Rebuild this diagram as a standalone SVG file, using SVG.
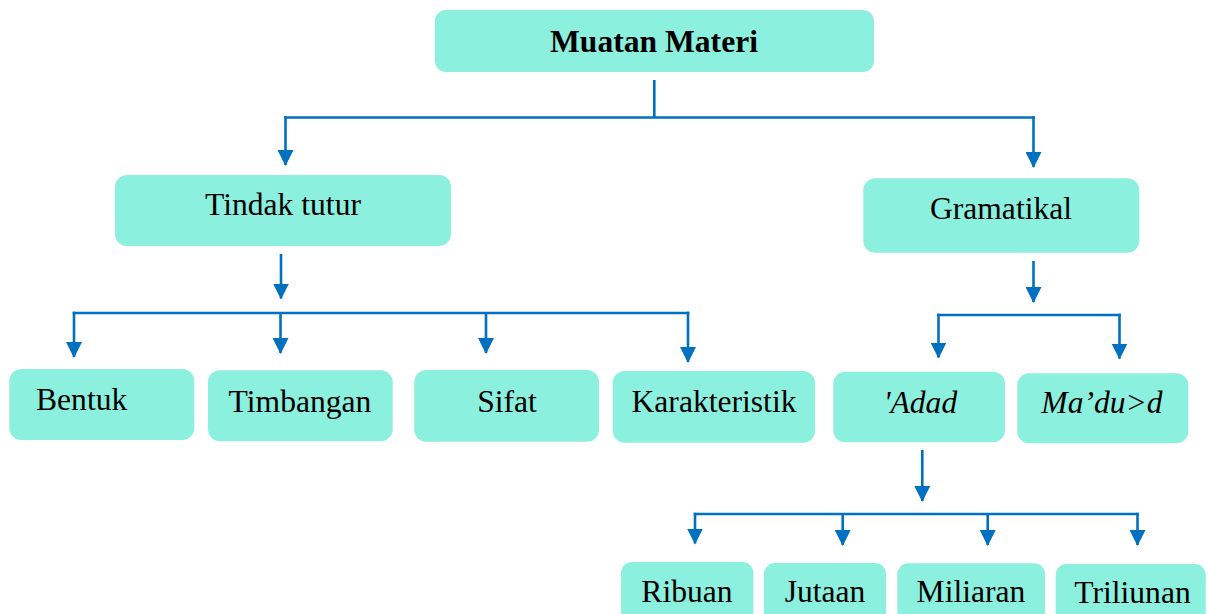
<svg xmlns="http://www.w3.org/2000/svg" width="1208" height="614" viewBox="0 0 1208 614">
<style>
.box{fill:#8CF0DE;}
.t{font-family:"Liberation Serif","Times New Roman",serif;font-size:31.6px;fill:#000;text-anchor:middle;}
.b{font-weight:bold;}
.i{font-style:italic;}
.c{fill:none;stroke:#0070C0;stroke-width:2.6;}
.a{fill:none;stroke:#0070C0;stroke-width:2.6;marker-end:url(#ah);}
</style>
<defs>
<marker id="ah" markerUnits="userSpaceOnUse" viewBox="0 0 16 16" markerWidth="16" markerHeight="16" refX="15" refY="8" orient="auto">
<path d="M0,0 L16,8 L0,16 Z" fill="#0070C0"/>
</marker>
</defs>
<rect width="1208" height="614" fill="#fff"/>
<g id="connectors">
<line class="c" x1="654.3" y1="80" x2="654.3" y2="117.5"/>
<line class="c" x1="284.2" y1="117.5" x2="1034.8" y2="117.5"/>
<line class="a" x1="285.5" y1="116.2" x2="285.5" y2="165"/>
<line class="a" x1="1033.5" y1="116.2" x2="1033.5" y2="167"/>
<line class="a" x1="281" y1="254" x2="281" y2="298.5"/>
<line class="c" x1="72.7" y1="313" x2="689.3" y2="313"/>
<line class="a" x1="74" y1="311.7" x2="74" y2="357"/>
<line class="a" x1="280.5" y1="313" x2="280.5" y2="353"/>
<line class="a" x1="486" y1="313" x2="486" y2="353"/>
<line class="a" x1="688" y1="311.7" x2="688" y2="362"/>
<line class="a" x1="1033.5" y1="261" x2="1033.5" y2="302"/>
<line class="c" x1="937.2" y1="315" x2="1120.8" y2="315"/>
<line class="a" x1="938.5" y1="313.7" x2="938.5" y2="357.5"/>
<line class="a" x1="1119.5" y1="313.7" x2="1119.5" y2="358.5"/>
<line class="a" x1="922.3" y1="450" x2="922.3" y2="501"/>
<line class="c" x1="693.7" y1="514" x2="1138.8" y2="514"/>
<line class="a" x1="695" y1="512.7" x2="695" y2="543.5"/>
<line class="a" x1="842.7" y1="514" x2="842.7" y2="545"/>
<line class="a" x1="987.7" y1="514" x2="987.7" y2="545"/>
<line class="a" x1="1137.5" y1="512.7" x2="1137.5" y2="545"/>
</g>
<g id="muatan-materi">
<rect class="box" x="435" y="10" width="439" height="62" rx="11"/>
<text class="t b" x="654" y="52">Muatan Materi</text>
</g>
<g id="tindak-tutur">
<rect class="box" x="115" y="175" width="336" height="71" rx="12"/>
<text class="t" x="283" y="215">Tindak tutur</text>
</g>
<g id="gramatikal">
<rect class="box" x="863.3" y="178.3" width="276" height="74.5" rx="12"/>
<text class="t" x="1001" y="219.3">Gramatikal</text>
</g>
<g id="bentuk">
<rect class="box" x="9.3" y="369" width="185" height="71" rx="12"/>
<text class="t" x="36" y="410" style="text-anchor:start">Bentuk</text>
</g>
<g id="timbangan">
<rect class="box" x="208" y="370.3" width="184.7" height="71" rx="12"/>
<text class="t" x="300" y="411.7">Timbangan</text>
</g>
<g id="sifat">
<rect class="box" x="414.3" y="370" width="184.7" height="71.7" rx="12"/>
<text class="t" x="507" y="411.7">Sifat</text>
</g>
<g id="karakteristik">
<rect class="box" x="612.7" y="371" width="202.3" height="71.7" rx="12"/>
<text class="t" x="714" y="412">Karakteristik</text>
</g>
<g id="adad">
<rect class="box" x="833.3" y="371.7" width="171.7" height="70.6" rx="12"/>
<text class="t i" x="920.5" y="412.7">'Adad</text>
</g>
<g id="madud">
<rect class="box" x="1017.3" y="373.3" width="171" height="70" rx="12"/>
<text class="t i" x="1102" y="413.3">Ma’du&gt;d</text>
</g>
<g id="ribuan">
<rect class="box" x="621" y="562" width="132.3" height="70" rx="11"/>
<text class="t" x="687" y="601.7">Ribuan</text>
</g>
<g id="jutaan">
<rect class="box" x="764" y="563" width="122" height="70" rx="11"/>
<text class="t" x="825" y="602">Jutaan</text>
</g>
<g id="miliaran">
<rect class="box" x="897.3" y="563.3" width="147.7" height="70" rx="11"/>
<text class="t" x="971" y="602.3">Miliaran</text>
</g>
<g id="triliunan">
<rect class="box" x="1055.7" y="564" width="150" height="70" rx="11"/>
<text class="t" x="1132.5" y="603.3">Triliunan</text>
</g>
</svg>
